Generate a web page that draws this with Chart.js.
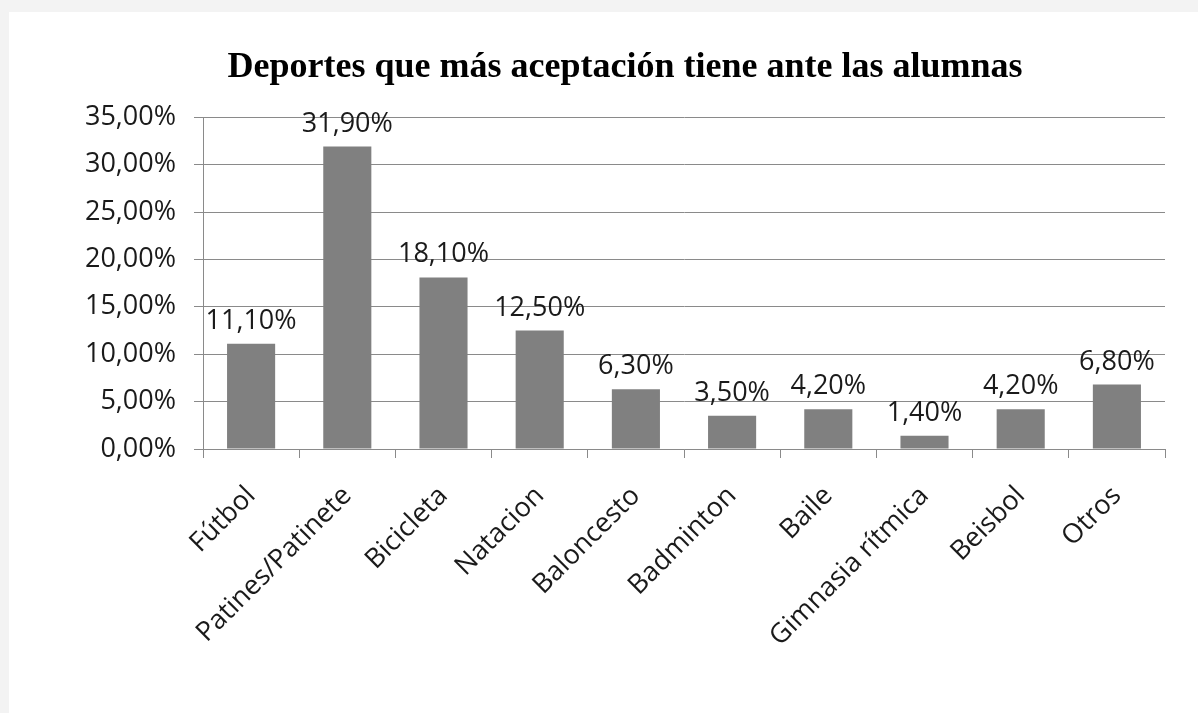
<!DOCTYPE html>
<html>
<head>
<meta charset="utf-8">
<script src="https://cdn.jsdelivr.net/npm/chart.js@4.4.0/dist/chart.umd.min.js"></script>
<style>
  html, body { margin: 0; padding: 0; background: #f3f3f3; width: 1198px; height: 713px; overflow: hidden; }
  #caja { position: absolute; left: 9px; top: 12px; width: 1189px; height: 701px; background: #ffffff; }
  #envoltorio { position: absolute; left: 52px; top: 12px; width: 1146px; height: 701px; }
</style>
</head>
<body>
<div id="caja"></div>
<div id="envoltorio"><canvas id="grafico"></canvas></div>
<script>
// datos
var deportes = ['Fútbol', 'Patines/Patinete', 'Bicicleta', 'Natacion', 'Baloncesto',
  'Badminton', 'Baile', 'Gimnasia rítmica', 'Beisbol', 'Otros'];
var porcentajes = [11.1, 31.9, 18.1, 12.5, 6.3, 3.5, 4.2, 1.4, 4.2, 6.8];
var titulo = 'Deportes que más aceptación tiene ante las alumnas';

var FUENTE = "'Open Sans', sans-serif";
var GRIS_EJE = '#8a8a8a';

function formatoPct(v) {
  return v.toFixed(2).replace('.', ',') + '%';
}

// etiquetas encima de cada barra
var etiquetasBarras = {
  id: 'etiquetasBarras',
  afterDatasetsDraw: function (chart) {
    var ctx = chart.ctx;
    var meta = chart.getDatasetMeta(0);
    ctx.save();
    ctx.font = '27px ' + FUENTE;
    ctx.fillStyle = '#1a1a1a';
    ctx.textAlign = 'center';
    ctx.textBaseline = 'alphabetic';
    meta.data.forEach(function (barra, i) {
      ctx.fillText(formatoPct(porcentajes[i]), barra.x, barra.y - 15);
    });
    ctx.restore();
  }
};

var config = {
  type: 'bar',
  data: {
    labels: deportes,
    datasets: [{
      data: porcentajes,
      backgroundColor: '#808080',
      borderWidth: 0,
      barPercentage: 0.5,
      categoryPercentage: 1.0
    }]
  },
  options: {
    responsive: true,
    maintainAspectRatio: false,
    animation: false,
    layout: { padding: { left: 33, right: 33, top: 0, bottom: 0 } },
    plugins: {
      legend: { display: false },
      tooltip: { enabled: false },
      title: {
        display: true,
        text: titulo,
        color: '#000000',
        font: { family: "'Liberation Serif', 'Times New Roman', serif", size: 36, weight: 'bold', lineHeight: 1.2 },
        padding: { top: 34, bottom: 28 }
      }
    },
    scales: {
      x: {
        grid: {
          display: true,
          drawOnChartArea: false,
          drawTicks: true,
          tickLength: 9,
          color: GRIS_EJE,
          offset: true
        },
        border: { display: true, color: GRIS_EJE, width: 1 },
        ticks: {
          color: '#1a1a1a',
          font: { family: FUENTE, size: 27 },
          minRotation: 45,
          maxRotation: 45,
          padding: 22,
          autoSkip: false
        },
        afterFit: function (escala) { escala.height = 264; }
      },
      y: {
        min: 0,
        max: 35,
        grid: {
          color: GRIS_EJE,
          tickLength: 9,
          drawTicks: true
        },
        border: { display: true, color: GRIS_EJE, width: 1 },
        ticks: {
          stepSize: 5,
          color: '#1a1a1a',
          font: { family: FUENTE, size: 27 },
          padding: 18,
          callback: function (v) { return formatoPct(v); }
        },
        afterFit: function (escala) { escala.width = 118; }
      }
    }
  },
  plugins: [etiquetasBarras]
};

var miGrafico = new Chart(document.getElementById('grafico'), config);
</script>
</body>
</html>
